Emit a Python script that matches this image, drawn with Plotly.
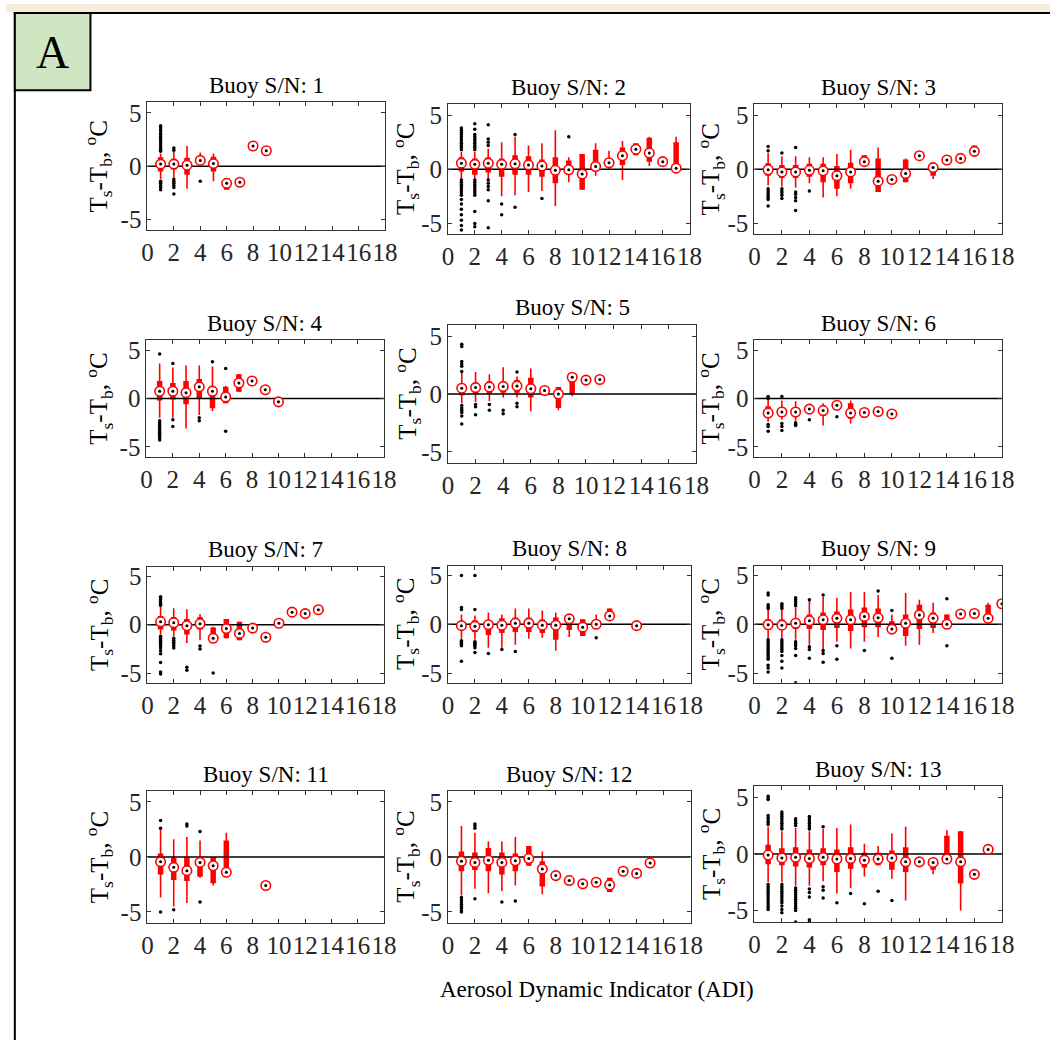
import plotly.graph_objects as go

W, H = 1063, 1044

# ---------------- data ----------------
BUOY_IDS = [1, 2, 3, 4, 5, 6, 7, 8, 9, 11, 12, 13]
X_TICKS = [0, 2, 4, 6, 8, 10, 12, 14, 16, 18]
Y_TICKS = [-5, 0, 5]
Y_TICK_TEXT = ["-5", "0", "5"]
X_RANGE = [0, 18]
Y_RANGE = [-6, 6]

ADI_1 = [1, 2, 3, 4, 5, 6, 7, 8, 9]
MED_1 = [0.2, 0.2, 0.1, 0.55, 0.25, -1.6, -1.5, 1.9, 1.45]
Q1_1 = [-0.5, -0.3, -0.8, 0.2, -0.5, -2.2, -1.9, 1.9, 1.45]
Q3_1 = [0.85, 0.7, 0.8, 0.9, 0.9, -1.1, -1.2, 1.9, 1.45]
WLO_1 = [-1.2, -1.0, -2.1, 0.0, -1.4, -2.2, -1.9, 1.9, 1.45]
WHI_1 = [1.2, 1.4, 1.9, 1.3, 1.2, -1.1, -1.2, 1.9, 1.45]
OUT_1 = [[1.4, 1.6, 1.8, 2.0, 2.2, 2.4, 2.6, 2.8, 3.0, 3.2, 3.4, 3.6, 3.8, -1.4, -1.6, -1.8, -2.0, -2.2],
         [1.5, 1.7, -1.2, -1.4, -1.6, -1.8, -2.0, -2.6], [], [-1.4], [], [], [], [], []]

ADI_2 = [1, 2, 3, 4, 5, 6, 7, 8, 9, 10, 11, 12, 13, 14, 15, 16, 17]
MED_2 = [0.56, 0.45, 0.55, 0.45, 0.5, 0.4, 0.3, -0.1, -0.05, -0.45, 0.25, 0.6, 1.25, 1.85, 1.5, 0.7, 0.1]
Q1_2 = [-0.2, -0.5, -0.3, -0.7, -0.5, -0.5, -0.7, -1.3, -0.5, -1.9, 0.05, 0.3, 0.4, 1.3, 0.7, 0.7, 0.0]
Q3_2 = [1.1, 1.0, 1.1, 1.0, 1.3, 1.2, 0.9, 1.1, 0.8, 1.4, 1.8, 0.9, 2.0, 2.4, 2.9, 0.7, 2.5]
WLO_2 = [-0.9, -0.9, -0.9, -2.5, -2.4, -2.1, -2.0, -3.4, -1.2, -1.9, -0.6, 0.0, -1.0, 1.3, 0.3, 0.7, 0.0]
WHI_2 = [1.6, 1.6, 1.9, 2.5, 3.0, 2.2, 2.4, 3.6, 1.1, 1.4, 2.4, 1.7, 2.6, 2.4, 3.0, 0.7, 3.0]
OUT_2 = [[1.8, 2.0, 2.2, 2.4, 2.6, 2.8, 3.0, 3.2, 3.4, 3.6, 3.8, -1.0, -1.2, -1.4, -1.6, -1.8, -2.0, -2.2,
          -2.4, -2.8, -3.2, -3.7, -4.2, -4.7, -5.2, -5.6],
         [4.2, 3.7, 3.2, 3.0, 2.8, 2.6, 2.4, 2.2, 2.0, 1.8, -1.0, -1.2, -1.4, -1.6, -1.8, -2.0, -2.2, -2.4,
          -3.9, -5.0, -5.3],
         [4.1, 2.8, 2.5, 2.2, -1.0, -1.3, -1.6, -1.9, -2.9, -5.4],
         [-3.2, -4.2], [3.2, -3.5], [], [-2.7], [], [3.0], [], [], [], [], [], [], [], []]

ADI_3 = [1, 2, 3, 4, 5, 6, 7, 8, 9, 10, 11, 12, 13, 14, 15, 16]
MED_3 = [-0.05, -0.25, -0.25, -0.1, -0.15, -0.6, -0.25, 0.7, -1.1, -0.95, -0.4, 1.25, 0.15, 0.85, 1.0, 1.65]
Q1_3 = [-0.6, -0.8, -0.8, -0.7, -1.2, -1.8, -1.3, 0.3, -2.1, -0.95, -1.2, 1.25, -0.6, 0.85, 1.0, 1.6]
Q3_3 = [0.55, 0.4, 0.4, 0.5, 0.5, 0.3, 0.6, 1.3, 1.0, -0.95, 0.9, 1.25, 0.6, 0.85, 1.0, 2.2]
WLO_3 = [-1.5, -1.6, -1.7, -1.3, -2.6, -2.5, -1.8, 0.3, -2.1, -0.95, -1.2, 1.25, -0.9, 0.85, 1.0, 1.6]
WHI_3 = [1.5, 1.2, 1.2, 1.1, 1.1, 1.4, 1.8, 1.3, 2.0, -0.95, 1.0, 1.25, 0.6, 0.85, 1.0, 2.2]
OUT_3 = [[2.1, 1.7, -1.8, -2.0, -2.2, -2.4, -2.6, -2.8, -3.4],
         [1.5, -1.8, -2.0, -2.2, -2.4, -2.7],
         [2.0, -2.1, -2.3, -2.6, -2.9, -3.8],
         [-2.0], [], [], [], [], [], [], [], [], [], [], [], []]

ADI_4 = [1, 2, 3, 4, 5, 6, 7, 8, 9, 10]
MED_4 = [0.75, 0.75, 0.6, 1.2, 0.75, 0.15, 1.6, 1.8, 0.9, -0.35]
Q1_4 = [-0.2, -0.1, -0.6, 0.0, -1.0, -0.5, 0.7, 1.8, 0.9, -0.35]
Q3_4 = [1.8, 1.6, 1.8, 2.0, 1.3, 1.2, 2.5, 1.8, 0.9, -0.35]
WLO_4 = [-2.0, -2.0, -3.1, -1.7, -1.3, -0.5, 0.7, 1.8, 0.9, -0.35]
WHI_4 = [3.6, 3.2, 3.4, 3.4, 3.3, 1.3, 2.5, 1.8, 0.9, -0.35]
OUT_4 = [[4.6, -2.3, -2.5, -2.7, -2.9, -3.1, -3.3, -3.5, -3.7, -3.9, -4.1, -4.3],
         [3.6, -2.2, -2.9], [], [-2.0, -2.3], [3.8], [3.1, -3.4], [], [], [], []]

ADI_5 = [1, 2, 3, 4, 5, 6, 7, 8, 9, 10, 11]
MED_5 = [0.5, 0.55, 0.6, 0.65, 0.7, 0.45, 0.3, 0.0, 1.45, 1.2, 1.25]
Q1_5 = [-0.1, 0.0, 0.0, 0.1, 0.1, -0.3, 0.3, -1.2, 0.0, 1.2, 1.25]
Q3_5 = [0.9, 1.0, 1.1, 1.1, 1.2, 1.4, 0.3, 0.6, 1.6, 1.2, 1.25]
WLO_5 = [-0.8, -0.7, -0.6, -0.3, -0.3, -1.5, 0.3, -1.4, -0.2, 1.2, 1.25]
WHI_5 = [1.9, 1.9, 1.7, 2.3, 1.5, 2.2, 0.3, 0.6, 1.6, 1.2, 1.25]
OUT_5 = [[4.3, 4.1, 2.8, 2.6, 2.4, 1.95, -1.0, -1.2, -1.4, -1.6, -1.9, -2.6],
         [-0.9, -1.1, -1.8], [-0.9, -1.4], [-1.4, -1.7], [1.9, -0.8, -1.1], [], [], [], [], [], []]

ADI_6 = [1, 2, 3, 4, 5, 6, 7, 8, 9, 10]
MED_6 = [-1.5, -1.4, -1.4, -1.1, -1.25, -0.7, -1.5, -1.45, -1.35, -1.6]
Q1_6 = [-1.9, -1.7, -1.8, -1.4, -1.8, -0.9, -2.1, -2.0, -1.35, -1.9]
Q3_6 = [-0.8, -0.9, -1.0, -0.8, -0.7, -0.5, -0.5, -1.1, -1.35, -1.2]
WLO_6 = [-2.4, -2.2, -2.3, -1.5, -2.8, -0.9, -2.6, -2.0, -1.35, -1.9]
WHI_6 = [-0.1, -0.2, -0.3, -0.6, -0.5, -0.5, -0.2, -1.1, -1.35, -1.2]
OUT_6 = [[0.2, 0.1, 0.0, -2.7, -2.9, -3.4], [0.2, -2.6, -2.9, -3.3], [-2.5, -2.7, -2.8],
         [-2.2], [], [-1.9], [], [], [], []]

ADI_7 = [1, 2, 3, 4, 5, 6, 7, 8, 9, 10, 11, 12, 13]
MED_7 = [0.3, 0.2, -0.1, 0.1, -1.4, -0.4, -0.9, -0.35, -1.3, 0.15, 1.3, 1.15, 1.55]
Q1_7 = [-0.5, -0.6, -1.0, -0.5, -1.6, -1.4, -1.6, -0.35, -1.3, 0.15, 1.3, 1.15, 1.55]
Q3_7 = [0.9, 0.8, 0.6, 0.8, -0.3, 0.6, 0.3, -0.35, -1.3, 0.15, 1.3, 1.15, 1.55]
WLO_7 = [-1.0, -1.2, -1.9, -1.6, -1.6, -1.4, -1.6, -0.35, -1.3, 0.15, 1.3, 1.15, 1.55]
WHI_7 = [1.9, 1.7, 1.6, 1.1, -0.2, 0.6, 0.3, -0.35, -1.3, 0.15, 1.3, 1.15, 1.55]
OUT_7 = [[2.0, 2.2, 2.4, 2.6, 2.8, 2.9, -1.2, -1.4, -1.6, -1.8, -2.0, -2.2, -2.4, -2.7, -3.0, -3.9, -4.9, -5.1],
         [-1.4, -1.6, -1.8, -2.0, -2.2, -2.4], [-4.4, -4.7], [-2.2, -2.5], [-5.0],
         [], [], [], [], [], [], [], []]

ADI_8 = [1, 2, 3, 4, 5, 6, 7, 8, 9, 10, 11, 12, 14]
MED_8 = [-0.15, -0.2, -0.05, -0.1, 0.1, 0.1, -0.1, -0.1, 0.55, -0.3, 0.0, 0.85, -0.15]
Q1_8 = [-0.5, -0.8, -1.1, -0.9, -0.8, -0.8, -0.9, -1.6, -0.6, -1.2, -0.3, 0.6, -0.15]
Q3_8 = [0.3, 0.4, 0.3, 0.6, 0.7, 0.7, 0.5, 0.7, 0.8, 0.5, 0.4, 1.6, -0.15]
WLO_8 = [-1.5, -1.6, -2.4, -2.4, -2.1, -1.5, -1.4, -2.7, -1.3, -1.2, -0.4, 0.6, -0.15]
WHI_8 = [1.0, 0.9, 1.2, 1.0, 1.6, 1.6, 1.4, 1.2, 1.0, 0.5, 1.0, 1.6, -0.15]
OUT_8 = [[5.0, 1.7, 1.5, -1.7, -1.8, -1.9, -2.0, -2.1, -2.2, -3.8],
         [5.0, 1.5, -1.8, -1.9, -2.0, -2.1, -2.2, -2.4, -2.9],
         [-3.0], [-2.6], [-2.8], [], [], [], [], [], [-1.4], [], []]

ADI_9 = [1, 2, 3, 4, 5, 6, 7, 8, 9, 10, 11, 12, 13, 14, 15, 16, 17, 18]
MED_9 = [-0.05, -0.1, 0.1, 0.35, 0.45, 0.6, 0.45, 0.8, 0.65, -0.5, 0.1, 0.95, 0.6, 0.0, 1.05, 1.1, 0.6, 2.1]
Q1_9 = [-0.5, -0.6, -0.5, -0.5, -0.6, -0.4, -0.7, -0.3, -0.3, -0.9, -1.2, -0.5, -0.4, -0.1, 1.05, 1.1, 0.6, 2.1]
Q3_9 = [0.5, 0.5, 0.6, 1.0, 1.2, 1.3, 1.5, 1.7, 1.6, 0.3, 1.0, 2.0, 1.2, 1.0, 1.05, 1.1, 2.0, 2.1]
WLO_9 = [-1.5, -1.5, -1.6, -2.1, -2.6, -1.8, -2.5, -1.8, -1.3, -0.9, -2.2, -2.1, -0.9, -0.1, 1.05, 1.1, 0.6, 2.1]
WHI_9 = [1.5, 1.5, 1.7, 2.4, 2.8, 2.7, 3.3, 3.3, 3.0, 1.0, 3.2, 2.5, 2.2, 1.0, 1.05, 1.1, 2.2, 2.1]
OUT_9 = [[3.2, 3.0, 2.0, 1.8, 1.6, -1.6, -1.8, -2.0, -2.2, -2.4, -2.6, -2.8, -3.0, -3.2, -3.4, -3.6, -4.2, -4.5, -4.9],
         [2.1, 2.0, 1.8, 1.6, -1.6, -1.8, -2.0, -2.2, -2.4, -2.6, -2.8, -3.2, -3.8, -4.5],
         [2.7, 2.5, 2.3, 2.1, 1.9, -1.8, -2.0, -2.2, -2.5, -3.2, -6.0],
         [2.5, -2.3, -2.6, -3.5], [3.0, -2.7, -3.0, -3.9], [-2.2, -3.6], [], [-2.7], [3.4],
         [1.4, -3.5], [], [], [], [2.6, -2.2], [], [], [], []]

ADI_11 = [1, 2, 3, 4, 5, 6, 9]
MED_11 = [-0.45, -0.95, -1.25, -0.5, -0.8, -1.4, -2.6]
Q1_11 = [-1.6, -2.1, -2.2, -1.8, -2.4, -1.4, -2.6]
Q3_11 = [0.3, -0.1, 0.0, 0.0, 0.0, 1.5, -2.6]
WLO_11 = [-3.7, -4.5, -4.2, -1.9, -2.6, -1.4, -2.6]
WHI_11 = [2.5, 1.6, 1.8, 1.5, 0.0, 2.2, -2.6]
OUT_11 = [[3.3, 2.6, -5.0], [-4.8], [3.0, 2.8], [2.3, -4.1], [], [], []]

ADI_12 = [1, 2, 3, 4, 5, 6, 7, 8, 9, 10, 11, 12, 13, 14, 15]
MED_12 = [-0.4, -0.5, -0.3, -0.5, -0.35, -0.15, -1.1, -1.7, -2.15, -2.45, -2.3, -2.55, -1.3, -1.5, -0.55]
Q1_12 = [-1.3, -1.2, -1.3, -1.6, -1.3, -0.8, -2.7, -1.7, -2.2, -2.45, -2.3, -3.2, -1.3, -1.5, -0.55]
Q3_12 = [0.5, 0.4, 0.8, 0.4, 0.3, 1.0, -0.4, -1.7, -1.7, -2.45, -2.3, -1.9, -1.3, -1.5, -0.55]
WLO_12 = [-3.5, -2.9, -3.3, -3.1, -2.6, -0.8, -3.4, -1.7, -2.2, -2.45, -2.3, -3.2, -1.3, -1.5, -0.55]
WHI_12 = [2.8, 2.2, 1.4, 1.4, 1.8, 1.0, 0.5, -1.7, -1.7, -2.45, -2.3, -1.9, -1.3, -1.5, -0.55]
OUT_12 = [[-3.7, -3.9, -4.1, -4.3, -4.5, -4.7, -4.9, -5.0], [3.0, 2.8, 2.6, -3.8], [], [-4.1], [-4.0],
          [], [], [], [], [], [], [], [], [], []]

ADI_13 = [1, 2, 3, 4, 5, 6, 7, 8, 9, 10, 11, 12, 13, 14, 15, 16, 17]
MED_13 = [-0.1, -0.35, -0.3, -0.4, -0.3, -0.45, -0.4, -0.55, -0.45, -0.35, -0.7, -0.7, -0.75, -0.45, -0.7, -1.8, 0.4]
Q1_13 = [-0.9, -1.0, -1.1, -1.2, -1.0, -1.6, -1.3, -1.2, -1.0, -1.4, -1.6, -0.8, -1.4, -0.5, -2.6, -1.8, 0.4]
Q3_13 = [0.8, 0.5, 0.6, 0.4, 0.5, 0.4, 0.6, 0.1, 0.1, 0.3, 0.6, -0.5, -0.5, 1.6, 2.0, -1.8, 0.4]
WLO_13 = [-2.5, -2.5, -2.8, -2.8, -2.4, -3.5, -3.0, -2.0, -1.0, -2.2, -4.1, -0.8, -1.8, -0.5, -5.0, -1.8, 0.4]
WHI_13 = [2.4, 2.0, 2.3, 2.0, 2.2, 2.3, 2.6, 0.9, 0.7, 1.8, 2.4, -0.5, -0.5, 2.1, 2.0, -1.8, 0.4]
OUT_13 = [[5.1, 4.9, 4.8, 3.4, 3.2, 3.0, 2.8, 2.6, -2.7, -2.9, -3.1, -3.3, -3.5, -3.7, -3.9, -4.1, -4.3, -4.5, -4.7, -4.9],
          [3.7, 3.5, 3.3, 3.1, 2.9, 2.7, 2.5, 2.3, 2.2, -2.7, -2.9, -3.1, -3.3, -3.5, -3.7, -3.9, -4.1, -4.3, -4.6, -4.9, -5.2],
          [3.1, 2.9, 2.7, 2.5, -3.0, -3.2, -3.4, -3.6, -3.8, -4.0, -4.2, -4.4, -4.6, -4.8, -5.0, -6.0],
          [3.3, 3.1, 2.9, 2.7, 2.5, 2.3, 2.2, -3.1, -3.4, -3.8, -5.8, -6.0],
          [2.4, -2.9, -3.2, -3.9], [-4.3], [-3.5], [-4.4], [-3.3], [-4.1], [], [], [], [], [], [], []]

STATS = {
    1: (ADI_1, MED_1, Q1_1, Q3_1, WLO_1, WHI_1, OUT_1),
    2: (ADI_2, MED_2, Q1_2, Q3_2, WLO_2, WHI_2, OUT_2),
    3: (ADI_3, MED_3, Q1_3, Q3_3, WLO_3, WHI_3, OUT_3),
    4: (ADI_4, MED_4, Q1_4, Q3_4, WLO_4, WHI_4, OUT_4),
    5: (ADI_5, MED_5, Q1_5, Q3_5, WLO_5, WHI_5, OUT_5),
    6: (ADI_6, MED_6, Q1_6, Q3_6, WLO_6, WHI_6, OUT_6),
    7: (ADI_7, MED_7, Q1_7, Q3_7, WLO_7, WHI_7, OUT_7),
    8: (ADI_8, MED_8, Q1_8, Q3_8, WLO_8, WHI_8, OUT_8),
    9: (ADI_9, MED_9, Q1_9, Q3_9, WLO_9, WHI_9, OUT_9),
    11: (ADI_11, MED_11, Q1_11, Q3_11, WLO_11, WHI_11, OUT_11),
    12: (ADI_12, MED_12, Q1_12, Q3_12, WLO_12, WHI_12, OUT_12),
    13: (ADI_13, MED_13, Q1_13, Q3_13, WLO_13, WHI_13, OUT_13),
}

# ---------------- layout (pixel boxes: left, top, right, bottom) ----------------
PANELS = {
    1: (144, 99, 386, 228), 2: (450, 101, 696, 232), 3: (762, 101, 1014, 232),
    4: (143, 339, 385, 456), 5: (450, 323, 703, 463), 6: (762, 339, 1014, 456),
    7: (144, 567, 385, 684), 8: (450, 566, 697, 684), 9: (762, 566, 1014, 684),
    11: (144, 793, 385, 926), 12: (450, 793, 697, 926), 13: (762, 788, 1014, 925),
}
YLAB_X = {1: 94, 2: 407, 3: 718, 4: 95, 5: 409, 6: 718, 7: 95, 8: 407, 9: 718,
          11: 95, 12: 407, 13: 718}

FONT = "Liberation Serif"
RED = "#ff0000"


def px(x):
    return x / W


def py(y):
    return 1 - y / H


fig = go.Figure()
annotations = []
layout_axes = {}

for n, b in enumerate(BUOY_IDS, start=1):
    xa = "x" if n == 1 else f"x{n}"
    ya = "y" if n == 1 else f"y{n}"
    adi, med, q1, q3, wlo, whi, out = STATS[b]
    common = dict(xaxis=xa, yaxis=ya, showlegend=False, hoverinfo="skip")

    wx, wy, bx, by = [], [], [], []
    for a, lo, hi, l1, l3 in zip(adi, wlo, whi, q1, q3):
        wx += [a, a, None]
        wy += [lo, hi, None]
        bx += [a, a, None]
        by += [l1, l3, None]
    fig.add_trace(go.Scatter(x=wx, y=wy, mode="lines", line=dict(color=RED, width=1.6), **common))
    fig.add_trace(go.Scatter(x=bx, y=by, mode="lines", line=dict(color=RED, width=5.5), **common))
    fig.add_trace(go.Scatter(x=X_RANGE, y=[0, 0], mode="lines", line=dict(color="black", width=1.5), **common))

    ox, oy = [], []
    for a, vals in zip(adi, out):
        for v in vals:
            ox.append(a)
            oy.append(v)
    fig.add_trace(go.Scatter(x=ox, y=oy, mode="markers",
                             marker=dict(color="black", size=3.5, line=dict(width=0)), **common))
    fig.add_trace(go.Scatter(x=adi, y=med, mode="markers",
                             marker=dict(symbol="circle", size=9.5, color="white",
                                         line=dict(color=RED, width=1.6)), **common))
    fig.add_trace(go.Scatter(x=adi, y=med, mode="markers",
                             marker=dict(color="black", size=3, line=dict(width=0)), **common))

    l, t, r, bt = PANELS[b]
    axis_common = dict(showgrid=False, zeroline=False, showline=True, linecolor="#333333",
                       linewidth=1, mirror="ticks", ticks="inside", ticklen=4, tickwidth=1,
                       tickcolor="#333333", tickangle=0,
                       tickfont=dict(family=FONT, size=25, color="#262626"))
    layout_axes["xaxis" if n == 1 else f"xaxis{n}"] = dict(
        domain=[px(l), px(r)], anchor=ya, range=X_RANGE, tickmode="array",
        tickvals=X_TICKS, ticktext=[str(v) for v in X_TICKS], **axis_common)
    layout_axes["yaxis" if n == 1 else f"yaxis{n}"] = dict(
        domain=[py(bt), py(t)], anchor=xa, range=Y_RANGE, tickmode="array",
        tickvals=Y_TICKS, ticktext=Y_TICK_TEXT, **axis_common)

    annotations.append(dict(text=f"Buoy S/N: {b}", x=px((l + r) / 2), y=py(t - 17),
                            xref="paper", yref="paper", xanchor="center", yanchor="middle",
                            showarrow=False, font=dict(family=FONT, size=23, color="black")))
    annotations.append(dict(text="T<sub>s</sub>-T<sub>b</sub>, <sup>o</sup>C",
                            x=px(YLAB_X[b]), y=py((t + bt) / 2), xref="paper", yref="paper",
                            xanchor="center", yanchor="middle", textangle=-90, showarrow=False,
                            font=dict(family=FONT, size=25, color="black")))

annotations.append(dict(text="Aerosol Dynamic Indicator (ADI)", x=px(602), y=py(993),
                        xref="paper", yref="paper", xanchor="center", yanchor="middle",
                        showarrow=False, font=dict(family=FONT, size=23, color="black")))
annotations.append(dict(text="A", x=px(47), y=py(49), xref="paper", yref="paper",
                        xanchor="center", yanchor="middle", showarrow=False,
                        font=dict(family=FONT, size=46, color="black")))

shapes = [
    dict(type="rect", xref="paper", yref="paper", x0=0, x1=1, y0=py(8.5), y1=1,
         fillcolor="#f6ecdc", line=dict(width=0), layer="below"),
    dict(type="line", xref="paper", yref="paper", x0=px(8), x1=1, y0=py(9), y1=py(9),
         line=dict(color="black", width=2)),
    dict(type="line", xref="paper", yref="paper", x0=px(9), x1=px(9), y0=py(8), y1=0,
         line=dict(color="black", width=2)),
    dict(type="rect", xref="paper", yref="paper", x0=px(9), x1=px(86), y0=py(87), y1=py(9),
         fillcolor="#d0e6c2", line=dict(color="black", width=2)),
]

fig.update_layout(width=W, height=H, margin=dict(l=0, r=0, t=0, b=0),
                  paper_bgcolor="white", plot_bgcolor="white",
                  font=dict(family=FONT), annotations=annotations, shapes=shapes,
                  showlegend=False, **layout_axes)

fig.write_html("out.html", config={"responsive": False},
               post_script="document.body.style.margin='0px';document.body.style.overflow='hidden';")
